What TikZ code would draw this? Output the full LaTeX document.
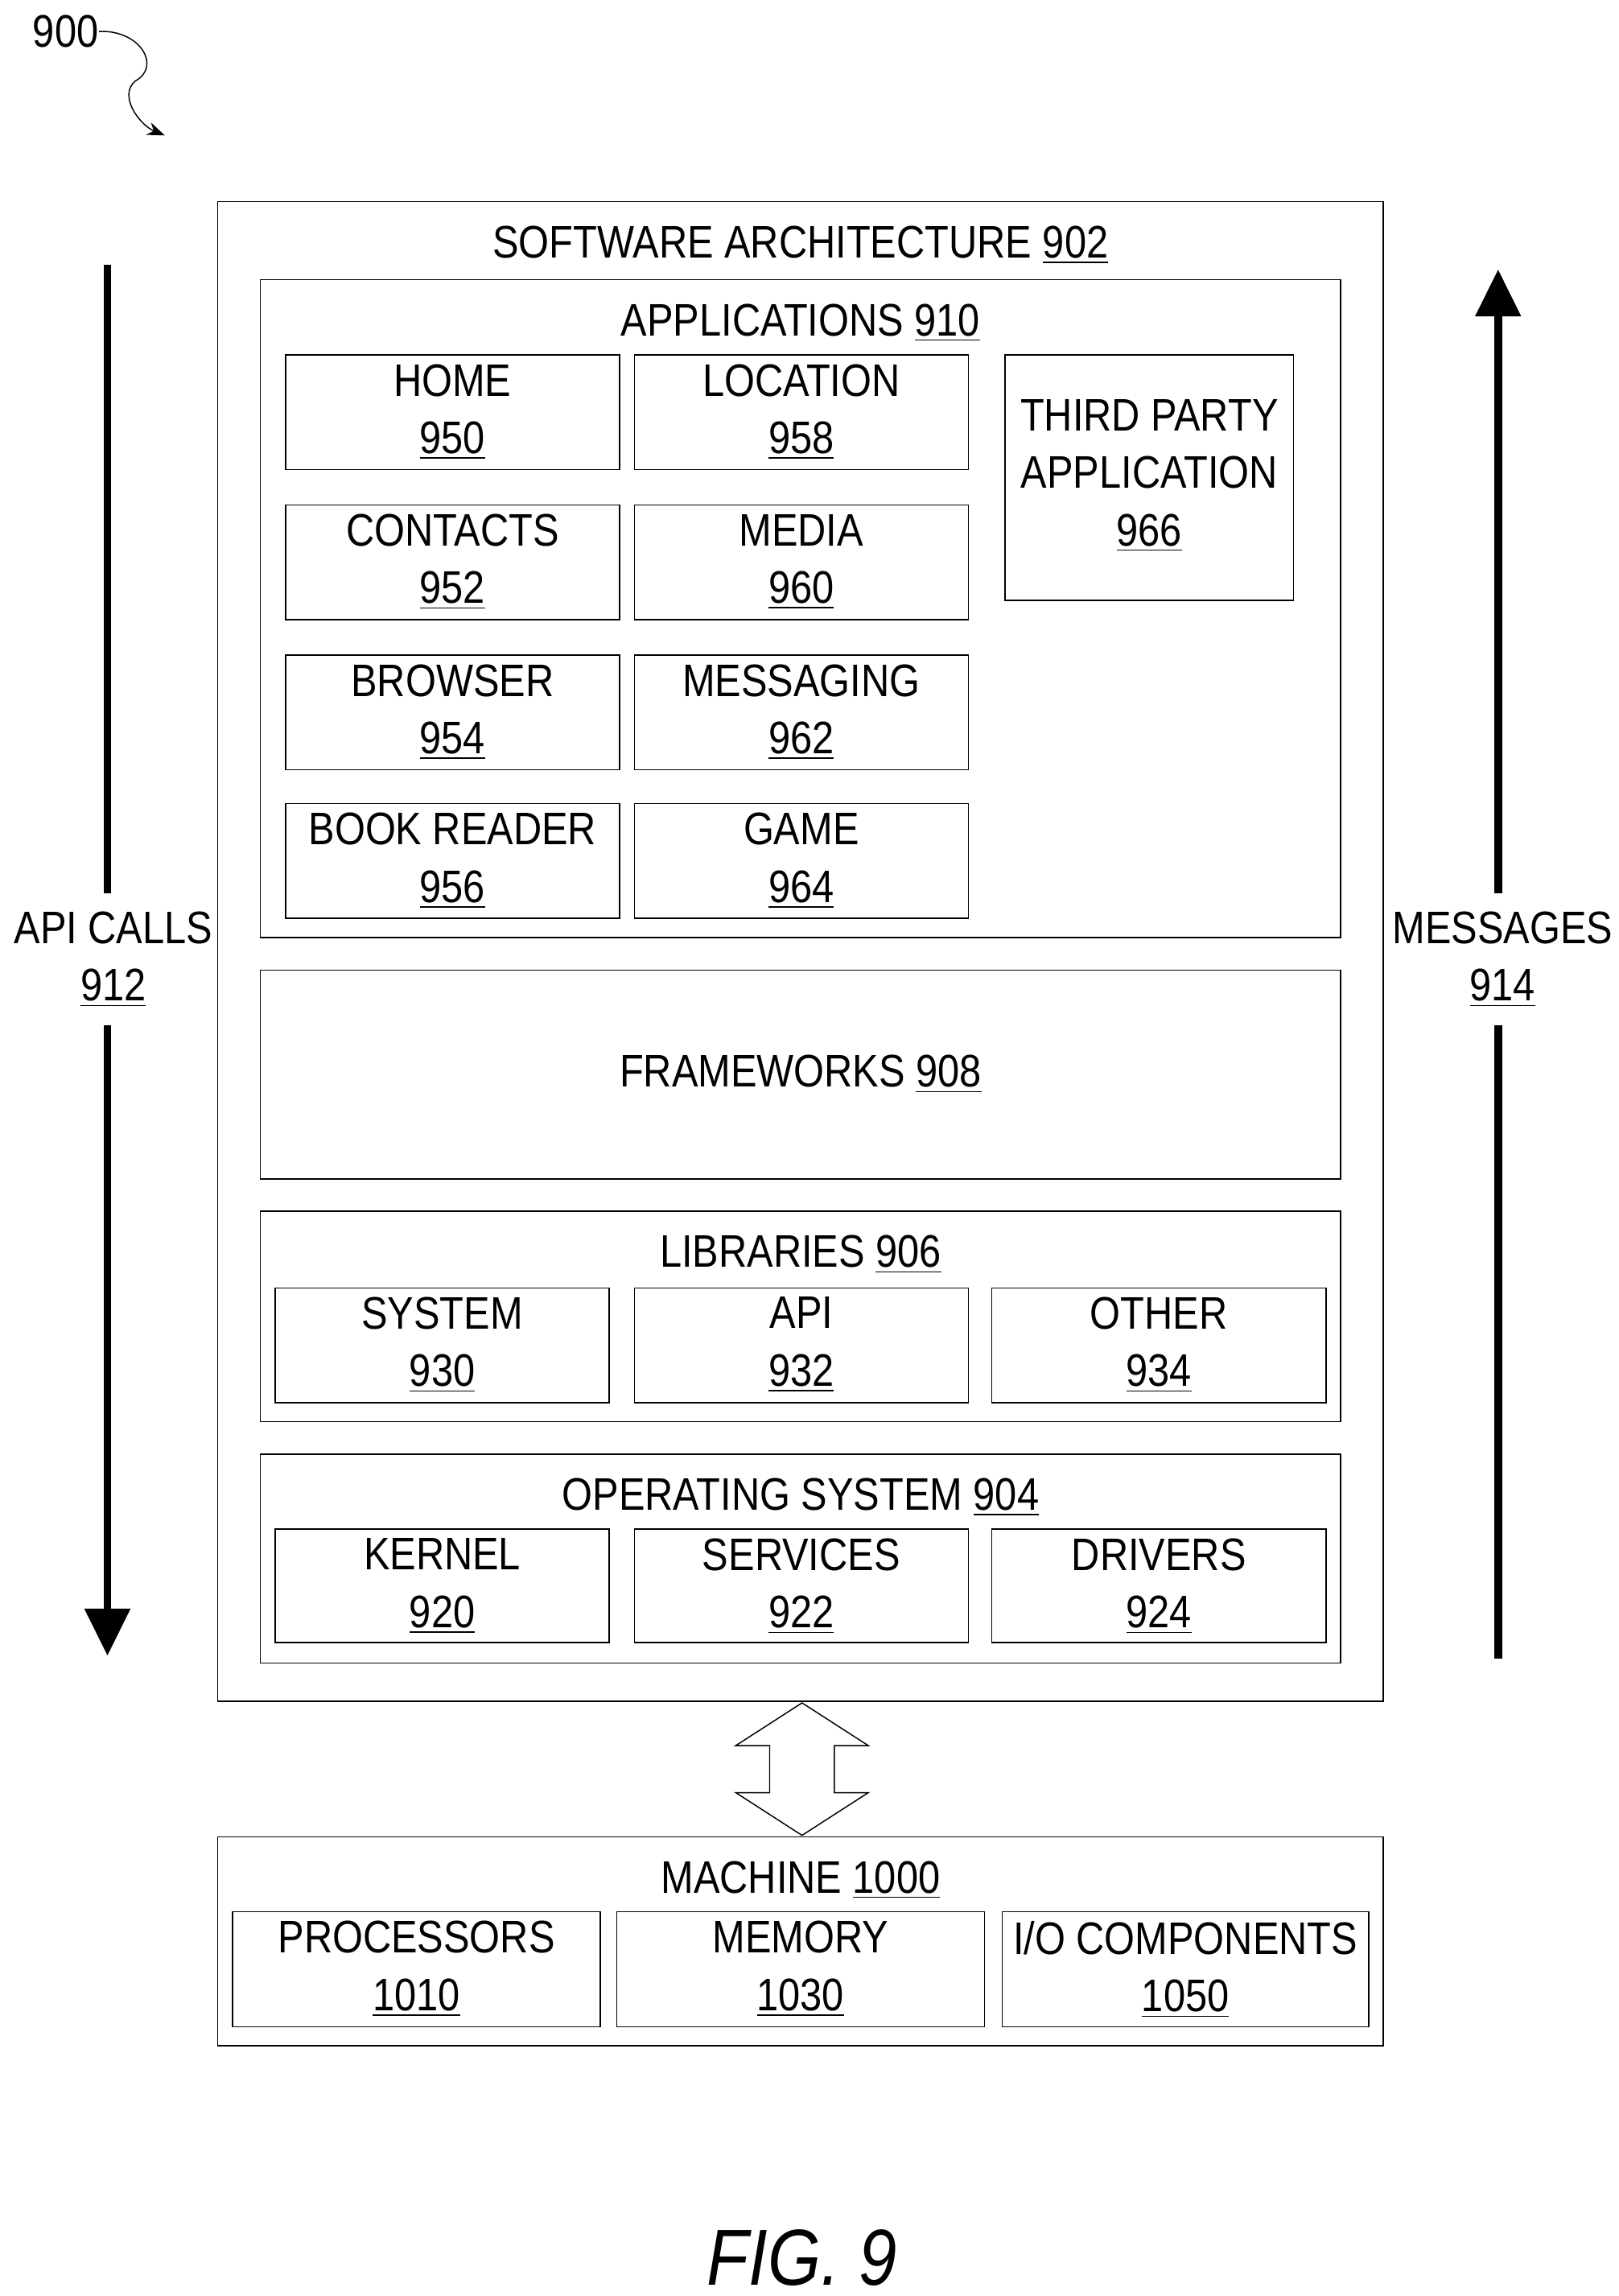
\documentclass[tikz,border=0pt]{standalone}
\usepackage{fontspec}
\setmainfont{Liberation Sans}[FakeStretch=0.86]
\usetikzlibrary{positioning,arrows.meta}
\tikzset{
  box/.style={draw,thin,inner sep=0pt},
  lbl/.style={inner sep=0pt,align=center,font=\fontsize{15.5}{19.5}\selectfont},
  bigarrow/.style={line width=2.6pt,-{Triangle[length=16pt,width=15pt]}}
}
% [top gap], name, x1, y1, x2, y2, text
\newcommand{\ubox}[7][6]{%
  \node[box,minimum width={(#5-#3)*0.5pt},minimum height={(#6-#4)*0.5pt}] (#2) at ({(#3+#5)/2},{(#4+#6)/2}) {};
  \node[lbl,anchor=north] (#2-t) at ({(#3+#5)/2},{#4+#1}) {#7};}
\begin{document}
\begin{tikzpicture}[x=0.5pt,y=-0.5pt]
\useasboundingbox (0,0) rectangle (1100,1560);

\node[lbl,anchor=north west] (n900) at (22,10) {900};
\coordinate (sq) at (112,92);
\draw[thin,-{Stealth[length=6pt]}] (n900.east) .. controls (95,20) and (110,45) .. (92,55) .. controls (80,65) and (95,85) .. (sq);

\ubox[16]{sa}{148}{137}{940}{1156}{SOFTWARE ARCHITECTURE \underline{902}}
\ubox[16]{apps}{177}{190}{911}{637}{APPLICATIONS \underline{910}}
\ubox{home}{194}{241}{421}{319}{HOME\\\underline{950}}
\ubox{loc}{431}{241}{658}{319}{LOCATION\\\underline{958}}
\ubox{cont}{194}{343}{421}{421}{CONTACTS\\\underline{952}}
\ubox{media}{431}{343}{658}{421}{MEDIA\\\underline{960}}
\ubox{brow}{194}{445}{421}{523}{BROWSER\\\underline{954}}
\ubox{msg}{431}{445}{658}{523}{MESSAGING\\\underline{962}}
\ubox{book}{194}{546}{421}{624}{BOOK READER\\\underline{956}}
\ubox{game}{431}{546}{658}{624}{GAME\\\underline{964}}
\ubox[30]{third}{683}{241}{879}{408}{THIRD PARTY\\APPLICATION\\\underline{966}}

\node[box,minimum width={734*0.5pt},minimum height={142*0.5pt}] (fw) at (544,730) {};
\node[lbl] (fw-t) at (fw.center) {FRAMEWORKS \underline{908}};

\ubox[16]{lib}{177}{823}{911}{966}{LIBRARIES \underline{906}}
\ubox{sys}{187}{875}{414}{953}{SYSTEM\\\underline{930}}
\ubox{api}{431}{875}{658}{953}{API\\\underline{932}}
\ubox{oth}{674}{875}{901}{953}{OTHER\\\underline{934}}

\ubox[16]{os}{177}{988}{911}{1130}{OPERATING SYSTEM \underline{904}}
\ubox{kern}{187}{1039}{414}{1116}{KERNEL\\\underline{920}}
\ubox{serv}{431}{1039}{658}{1116}{SERVICES\\\underline{922}}
\ubox{drv}{674}{1039}{901}{1116}{DRIVERS\\\underline{924}}

\ubox[16]{mach}{148}{1248}{940}{1390}{MACHINE \underline{1000}}
\ubox{proc}{158}{1299}{408}{1377}{PROCESSORS\\\underline{1010}}
\ubox{mem}{419}{1299}{669}{1377}{MEMORY\\\underline{1030}}
\ubox{io}{681}{1299}{930}{1377}{I/O COMPONENTS\\\underline{1050}}

% two-way arrow between software and machine
\draw[thin] (545,1157) -- (590,1186) -- (567,1186) -- (567,1218) -- (590,1218)
  -- (545,1247) -- (500,1218) -- (523,1218) -- (523,1186) -- (500,1186) -- cycle;

% side arrows
\node[lbl] (calls) at (77,652) {API CALLS\\\underline{912}};
\coordinate (calls-a) at (73,180);
\coordinate (calls-b) at (73,1125);
\draw[line width=2.6pt] (calls-a) -- ([yshift=6pt]calls.north -| calls-a);
\draw[bigarrow] ([yshift=-6pt]calls.south -| calls-a) -- (calls-b);

\node[lbl] (mess) at (1021,652) {MESSAGES\\\underline{914}};
\coordinate (mess-a) at (1018,1127);
\coordinate (mess-b) at (1018,183);
\draw[line width=2.6pt] (mess-a) -- ([yshift=-6pt]mess.south -| mess-a);
\draw[bigarrow] ([yshift=6pt]mess.north -| mess-a) -- (mess-b);

\node[inner sep=0pt,font=\fontsize{27}{30}\selectfont\itshape] (fig) at (545,1534) {FIG. 9};
\end{tikzpicture}
\end{document}
